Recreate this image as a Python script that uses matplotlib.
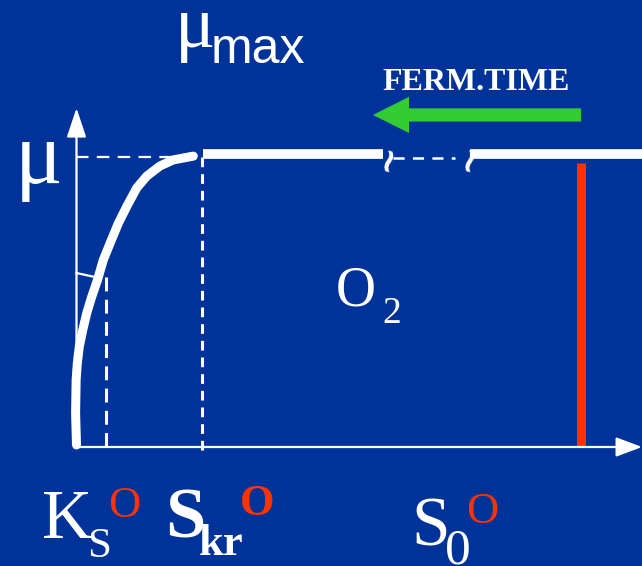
import matplotlib.pyplot as plt
import matplotlib.transforms as mtransforms

plt.rcParams['lines.scale_dashes'] = False

bg = '#003399'
red = '#ff3300'
green = '#33cc33'
serif = 'Liberation Serif'
sans = 'Liberation Sans'

# Monod-type growth curve mu(S), mu_max = 1, K_S = 1
curve_s = [0.0, -0.03, -0.012, 0.027, 0.093, 0.207, 0.34, 0.507, 0.7, 0.893,
           1.117, 1.393, 1.673, 2.007, 2.34, 2.783, 3.227, 3.893]
curve_mu = [0.007, 0.117, 0.231, 0.289, 0.346, 0.403, 0.461, 0.518, 0.576, 0.645,
            0.702, 0.771, 0.829, 0.893, 0.934, 0.969, 0.99, 1.003]

mu_max = 1.0
ks = 1.0
ks_line_s = [0.0, 0.617]
ks_line_mu = [0.6, 0.586]
s_kr = 4.18
s_0 = 16.8
s_0_top = 0.979
plateau_mu = 1.012
plateau_a = [4.22, 10.22]
plateau_b = [13.12, 19.0]
gap_dash = [10.55, 12.62]
breaks = [10.38, 13.08]
ferm_arrow = [16.82, 9.88]
ferm_mu = 1.145

s_max = 565.5 / 30
mu_top = 1.169

fig = plt.figure(figsize=(6.42, 5.66), dpi=100, facecolor=bg)
ax = fig.add_axes([0, 0, 1, 1])
ax.set_facecolor(bg)
ax.set_xlim(-76.5 / 30, s_max)
ax.set_ylim(-119 / 290, 447 / 290)
ax.axis('off')

# axes with arrow heads
ax.annotate('', xy=(s_max, 0), xytext=(0, 0),
            arrowprops=dict(arrowstyle='-|>,head_length=0.8,head_width=0.3',
                            color='white', lw=1.6, mutation_scale=20,
                            shrinkA=0, shrinkB=0))
ax.annotate('', xy=(0, mu_top), xytext=(0, 0),
            arrowprops=dict(arrowstyle='-|>,head_length=0.9,head_width=0.3',
                            color='white', lw=1.6, mutation_scale=20,
                            shrinkA=0, shrinkB=0))

# guide lines
ax.plot([0, curve_s[-1] - 0.3], [mu_max, mu_max], color='white', lw=1.6,
        dashes=(9, 6))
ax.plot([s_kr, s_kr], [mu_max, -0.02], color='white', lw=2.2, dashes=(7, 5))
ax.plot([ks, ks], [ks_line_mu[1], 0], color='white', lw=2.2, dashes=(10, 6))
ax.plot(ks_line_s, ks_line_mu, color='white', lw=1.6)

# growth curve and plateau
ax.plot(curve_s, curve_mu, color='white', lw=6.5, solid_capstyle='round',
        solid_joinstyle='round')
ax.plot(plateau_a, [plateau_mu] * 2, color='white', lw=7, solid_capstyle='butt')
ax.plot(plateau_b, [plateau_mu] * 2, color='white', lw=7, solid_capstyle='butt')
ax.plot(gap_dash, [0.997] * 2, color='white', lw=1.8, dashes=(8, 6))
for b in breaks:
    ax.text(b, 0.997, '~', color='white', fontsize=24, fontweight='bold',
            rotation=75, ha='center', va='center', family='DejaVu Sans')

# initial substrate concentration
ax.plot([s_0, s_0], [0, s_0_top], color=red, lw=6.5, solid_capstyle='butt')

# fermentation time direction
ax.annotate('', xy=(ferm_arrow[1], ferm_mu), xytext=(ferm_arrow[0], ferm_mu),
            arrowprops=dict(arrowstyle='simple,head_length=2.6,head_width=2.6,tail_width=0.95',
                            color=green, lw=0, mutation_scale=10,
                            shrinkA=0, shrinkB=0))

# labels placed in pixel coordinates from the top-left corner
px = mtransforms.Affine2D().scale(1 / 100, -1 / 100).translate(0, 5.66) + fig.dpi_scale_trans


def label(x, y, s, size, color='white', family=serif, weight='normal', ha='left'):
    fig.text(x, y, s, transform=px, fontsize=size, color=color, family=family,
             fontweight=weight, ha=ha, va='baseline')


label(476, 90, 'FERM.TIME', 23, weight='bold', ha='center')
label(15, 183, 'μ', 64)
label(175, 47, 'μ', 54)
label(211, 63, 'max', 36, family=sans)
label(336, 306, 'O', 40)
label(382, 323, '2', 27)

label(42, 538, 'K', 50)
label(87, 557, 'S', 31)
label(108, 517, 'O', 32, color=red)

label(165, 538, 'S', 52, weight='bold')
label(199, 555, 'kr', 32, weight='bold')
label(240, 515, 'O', 32, color=red, weight='bold')

label(411, 546, 'S', 50)
label(445, 564, '0', 37)
label(466, 523, 'O', 32, color=red)

fig.savefig('out.png', dpi=100, facecolor=bg)
